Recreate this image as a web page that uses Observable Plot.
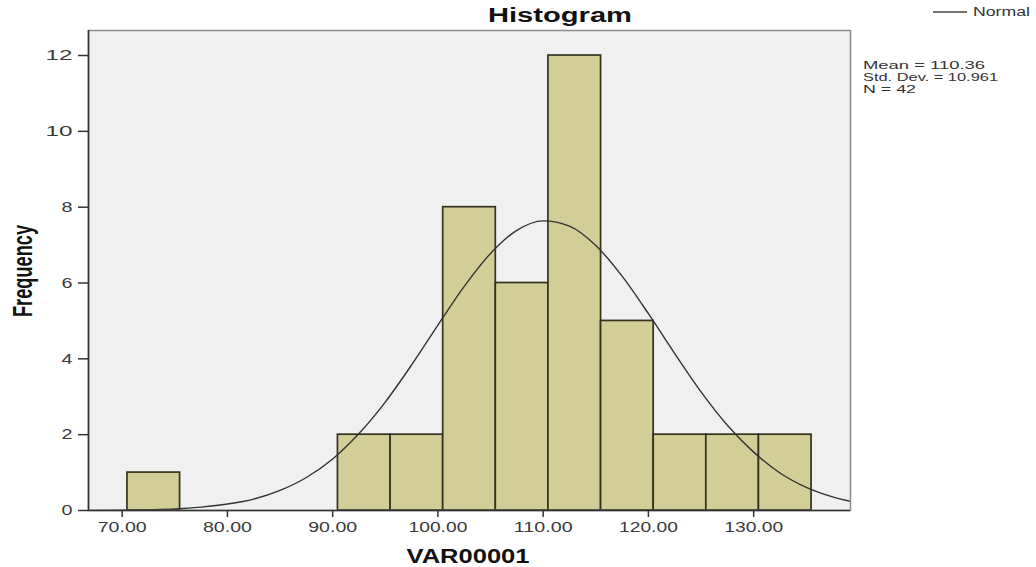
<!DOCTYPE html>
<html>
<head>
<meta charset="utf-8">
<script src="https://cdn.jsdelivr.net/npm/d3@7"></script>
<script src="https://cdn.jsdelivr.net/npm/@observablehq/plot@0.6"></script>
<style>
  html, body { margin: 0; padding: 0; background: #ffffff; }
</style>
</head>
<body>
<div id="chart"></div>
<script>
// ---- data ----
const binLower = [70.5, 75.5, 80.5, 85.5, 90.5, 95.5, 100.5, 105.5, 110.5, 115.5, 120.5, 125.5, 130.5];
const binUpper = [75.5, 80.5, 85.5, 90.5, 95.5, 100.5, 105.5, 110.5, 115.5, 120.5, 125.5, 130.5, 135.5];
const frequency = [1, 0, 0, 0, 2, 2, 8, 6, 12, 5, 2, 2, 2];

// normal curve, points
const curveX = [67, 70, 72.5, 75, 77.5, 80, 82.5, 85, 87.5, 90, 92.5, 95, 97.5, 100, 102.5, 105, 107.5, 110, 112.5, 115, 117.5, 120, 122.5, 125, 127.5, 130, 132.5, 135, 137.5, 139.2];
const curveY = [0.00, 0.01, 0.02, 0.04, 0.09, 0.17, 0.30, 0.53, 0.87, 1.36, 2.03, 2.86, 3.84, 4.89, 5.91, 6.78, 7.39, 7.64, 7.50, 6.99, 6.18, 5.19, 4.14, 3.13, 2.25, 1.54, 0.99, 0.61, 0.36, 0.24];

const xTicks = [70, 80, 90, 100, 110, 120, 130];
const yTicks = [0, 2, 4, 6, 8, 10, 12];
const titleText = "Histogram";
const xLabel = "VAR00001";
const yLabel = "Frequency";
const legendLabel = "Normal";
const statsLines = ["Mean = 110.36", "Std. Dev. = 10.961", "N = 42"];

const bins = binLower.map((lo, i) => ({lo, hi: binUpper[i], n: frequency[i]})).filter(d => d.n > 0);
const curve = curveX.map((x, i) => ({x, y: curveY[i]}));

const xDomain = [66.8, 139.2];
const yDomain = [0, 12.66];

const svg = Plot.plot({
  width: 1036,
  height: 567,
  marginLeft: 88,
  marginRight: 186,
  marginTop: 30,
  marginBottom: 57,
  style: {fontFamily: "'Liberation Sans', Arial, sans-serif", fontSize: "14px", color: "#3a3a3a", background: "#ffffff"},
  x: {domain: xDomain, ticks: xTicks, tickFormat: d => d.toFixed(2), tickSize: 7, tickPadding: 5, label: null},
  y: {domain: yDomain, ticks: yTicks, tickFormat: d => String(d), tickSize: 10, tickPadding: 6, label: null},
  marks: [
    Plot.frame({fill: "#f0f0f0", stroke: "none"}),
    Plot.rectY(bins, {x1: "lo", x2: "hi", y: "n", fill: "#d3cd97", stroke: "#34321f", strokeWidth: 1.7, inset: 0}),
    Plot.line(curve, {x: "x", y: "y", stroke: "#333333", strokeWidth: 1.4, curve: "monotone-x", clip: true}),
    Plot.frame({stroke: "#8c8c8c", strokeWidth: 1.5}),
    Plot.ruleX([xDomain[0]], {stroke: "#333333", strokeWidth: 1.6}),
    Plot.ruleY([0], {stroke: "#333333", strokeWidth: 1.6}),
    Plot.axisX({ticks: xTicks, tickFormat: d => d.toFixed(2), tickSize: 7, tickPadding: 5, stroke: "#333", strokeWidth: 1.5}),
    Plot.axisY({ticks: yTicks, tickSize: 10, tickPadding: 6, stroke: "#333", strokeWidth: 1.5})
  ]
});

document.getElementById("chart").appendChild(svg);

const s = d3.select(svg);
// stretch tick labels horizontally like the reference
s.selectAll("[aria-label='x-axis tick label'] text")
  .attr("textLength", function() { return this.textContent.length * 9.8; })
  .attr("lengthAdjust", "spacingAndGlyphs");
s.selectAll("[aria-label='y-axis tick label'] text")
  .attr("font-size", 15)
  .attr("textLength", function() { return this.textContent.length === 1 ? 11 : 27; })
  .attr("lengthAdjust", "spacingAndGlyphs");

const ff = "'Liberation Sans', Arial, sans-serif";

s.append("text")
  .attr("x", 560).attr("y", 22)
  .attr("text-anchor", "middle")
  .attr("font-family", ff).attr("font-weight", "bold").attr("font-size", 19.5)
  .attr("fill", "#111")
  .attr("textLength", 144).attr("lengthAdjust", "spacingAndGlyphs")
  .text(titleText);

s.append("text")
  .attr("x", 468).attr("y", 563)
  .attr("text-anchor", "middle")
  .attr("font-family", ff).attr("font-weight", "bold").attr("font-size", 20)
  .attr("fill", "#111")
  .attr("textLength", 123).attr("lengthAdjust", "spacingAndGlyphs")
  .text(xLabel);

s.append("text")
  .attr("transform", "translate(32,271) rotate(-90) scale(1,1.45)")
  .attr("text-anchor", "middle")
  .attr("font-family", ff).attr("font-weight", "bold").attr("font-size", 19)
  .attr("fill", "#111")
  .attr("textLength", 92).attr("lengthAdjust", "spacingAndGlyphs")
  .text(yLabel);

// legend
s.append("line")
  .attr("x1", 933).attr("x2", 967).attr("y1", 12).attr("y2", 12)
  .attr("stroke", "#444").attr("stroke-width", 1.3);
s.append("text")
  .attr("x", 973).attr("y", 16)
  .attr("text-anchor", "start")
  .attr("font-family", ff).attr("font-size", 12)
  .attr("fill", "#333")
  .attr("textLength", 57).attr("lengthAdjust", "spacingAndGlyphs")
  .text(legendLabel);

const statLens = [122, 135, 53];
statsLines.forEach((t, i) => {
  s.append("text")
    .attr("x", 863).attr("y", 69 + i * 11.8)
    .attr("text-anchor", "start")
    .attr("font-family", ff).attr("font-size", 11)
    .attr("fill", "#333")
    .attr("textLength", statLens[i]).attr("lengthAdjust", "spacingAndGlyphs")
    .text(t);
});
</script>
</body>
</html>
